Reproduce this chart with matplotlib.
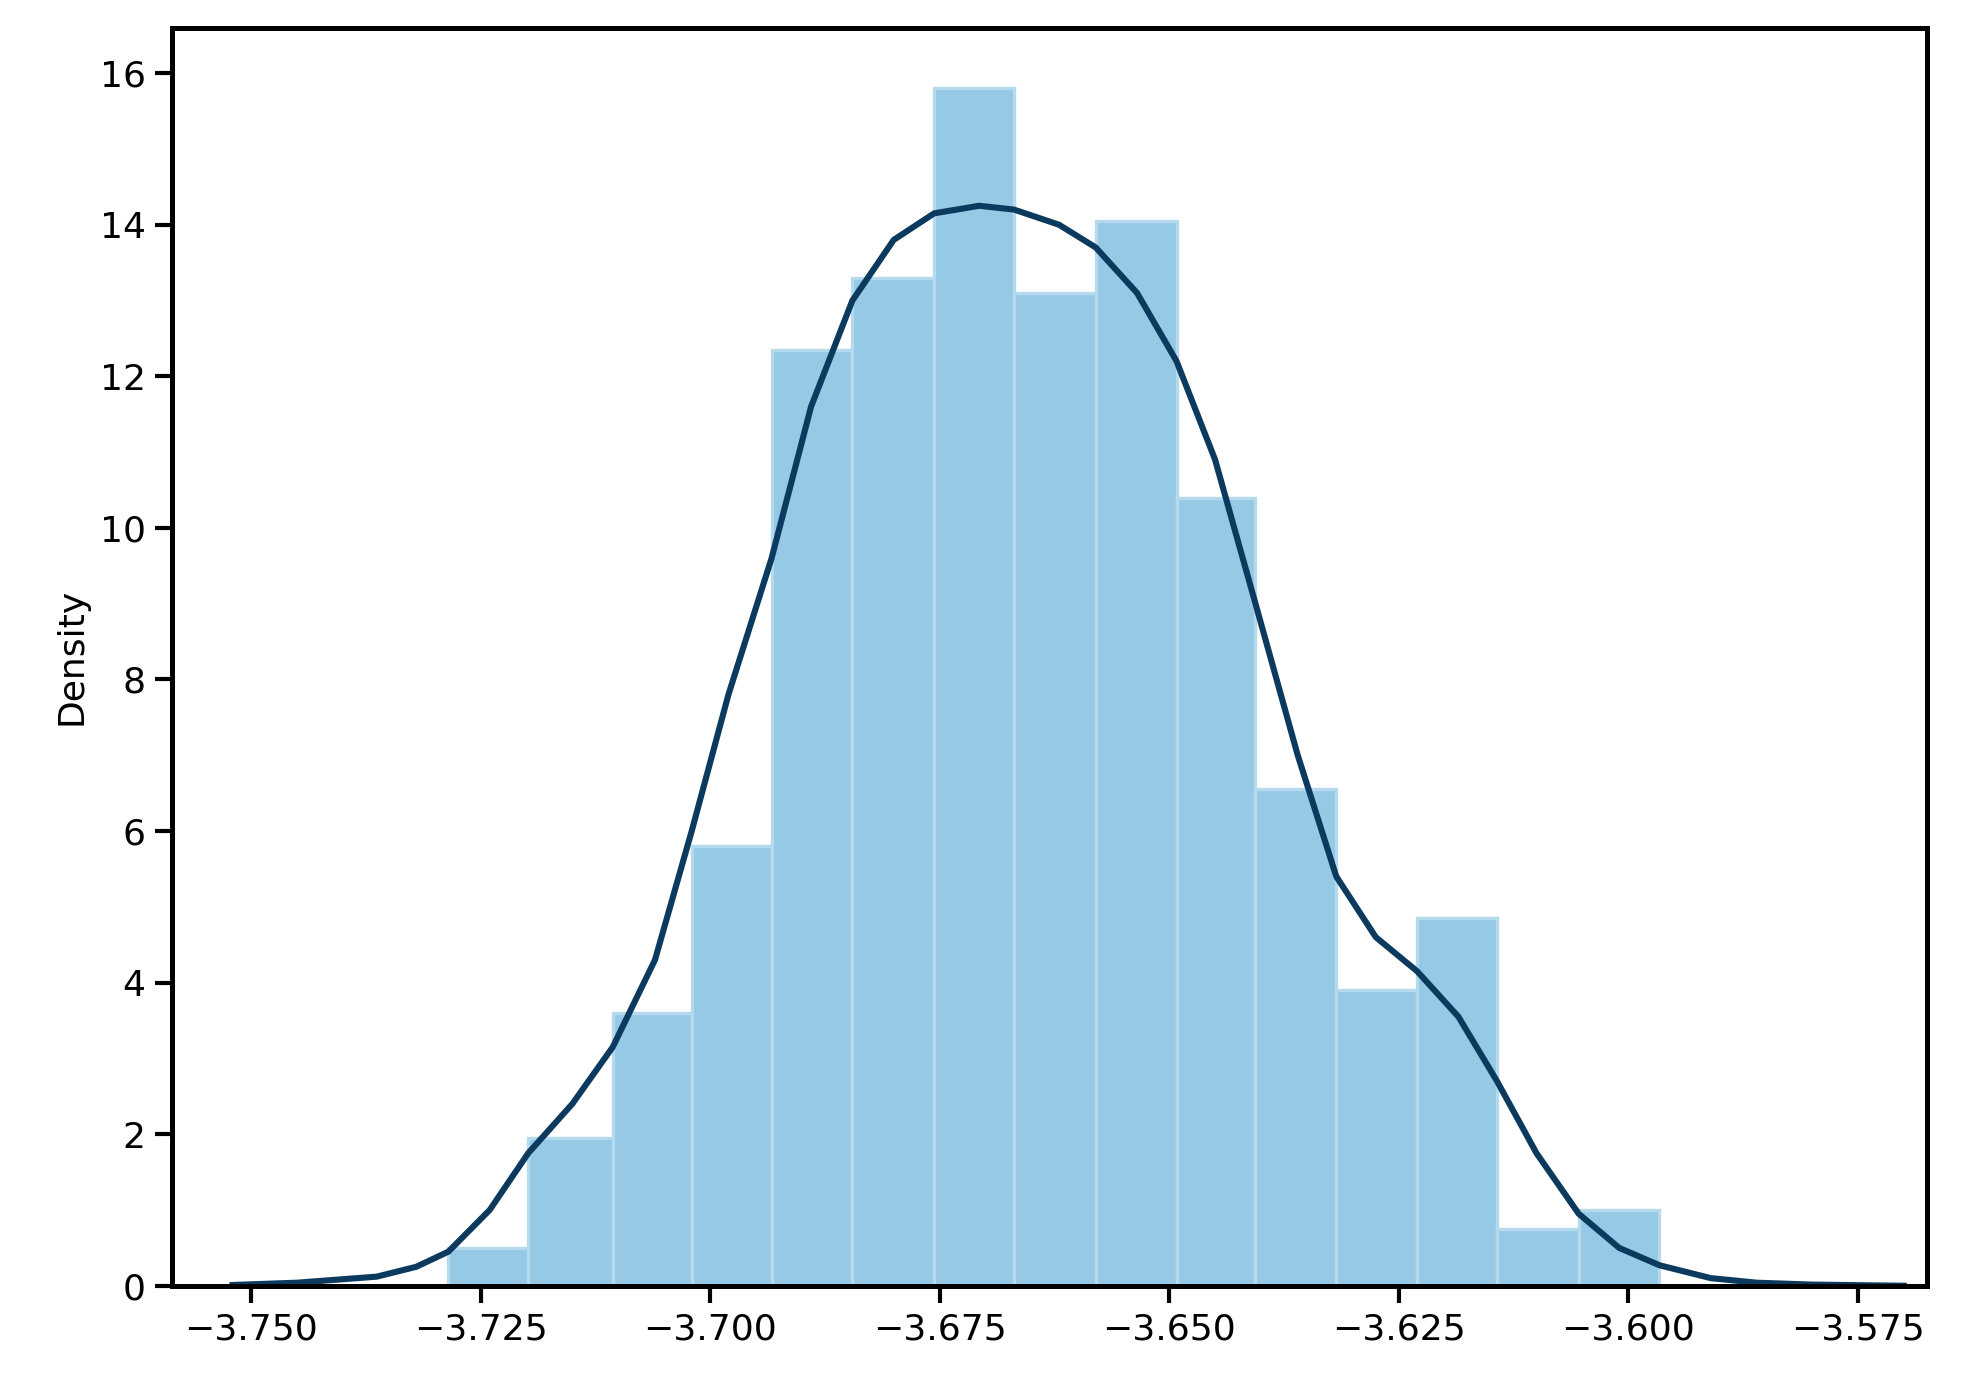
import matplotlib.pyplot as plt

# histogram bins (density)
bin_edges = [-3.7285, -3.7198, -3.7106, -3.7020, -3.6933, -3.6845, -3.6756, -3.6669,
             -3.6580, -3.6492, -3.6406, -3.6318, -3.6230, -3.6143, -3.6054, -3.5966]
bin_heights = [0.5, 1.95, 3.6, 5.8, 12.35, 13.3, 15.8, 13.1, 14.05, 10.4, 6.55, 3.9, 4.85, 0.75, 1.0]

# kde curve points
kde_x = [-3.7520, -3.7450, -3.7363, -3.7320, -3.7285, -3.7240, -3.7198, -3.7150, -3.7106,
         -3.7060, -3.7020, -3.6980, -3.6933, -3.6890, -3.6845, -3.6800, -3.6756, -3.6707,
         -3.6669, -3.6620, -3.6580, -3.6535, -3.6492, -3.6450, -3.6406, -3.6360, -3.6318,
         -3.6275, -3.6230, -3.6185, -3.6143, -3.6100, -3.6054, -3.6010, -3.5966, -3.5910,
         -3.5860, -3.5800, -3.5700]
kde_y = [0.01, 0.04, 0.12, 0.25, 0.45, 1.0, 1.75, 2.4, 3.15, 4.3, 6.0, 7.8, 9.6, 11.6, 13.0,
         13.8, 14.15, 14.25, 14.2, 14.0, 13.7, 13.1, 12.2, 10.9, 9.0, 7.0, 5.4, 4.6, 4.15,
         3.55, 2.7, 1.75, 0.95, 0.5, 0.27, 0.1, 0.04, 0.015, 0.0]

fig = plt.figure(figsize=(9.83, 6.92), dpi=200)
ax = fig.add_axes([0.0875, 0.071, 0.8925, 0.909])

widths = [bin_edges[i + 1] - bin_edges[i] for i in range(len(bin_heights))]
ax.bar(bin_edges[:-1], bin_heights, width=widths, align='edge',
       color='#95c9e5', edgecolor='#b5daee', linewidth=1.2)
ax.plot(kde_x, kde_y, color='#0b3a5e', linewidth=2.2)

ax.set_xlim(-3.7586, -3.5675)
ax.set_ylim(0, 16.6)
ax.set_xticks([-3.750, -3.725, -3.700, -3.675, -3.650, -3.625, -3.600, -3.575])
ax.set_xticklabels(['\u22123.750', '\u22123.725', '\u22123.700', '\u22123.675',
                    '\u22123.650', '\u22123.625', '\u22123.600', '\u22123.575'])
ax.set_yticks(range(0, 17, 2))
ax.tick_params(labelsize=13, width=1.5, length=6)
ax.set_ylabel('Density', fontsize=13)
for s in ax.spines.values():
    s.set_linewidth(1.8)

fig.savefig('out.png', dpi=200)
